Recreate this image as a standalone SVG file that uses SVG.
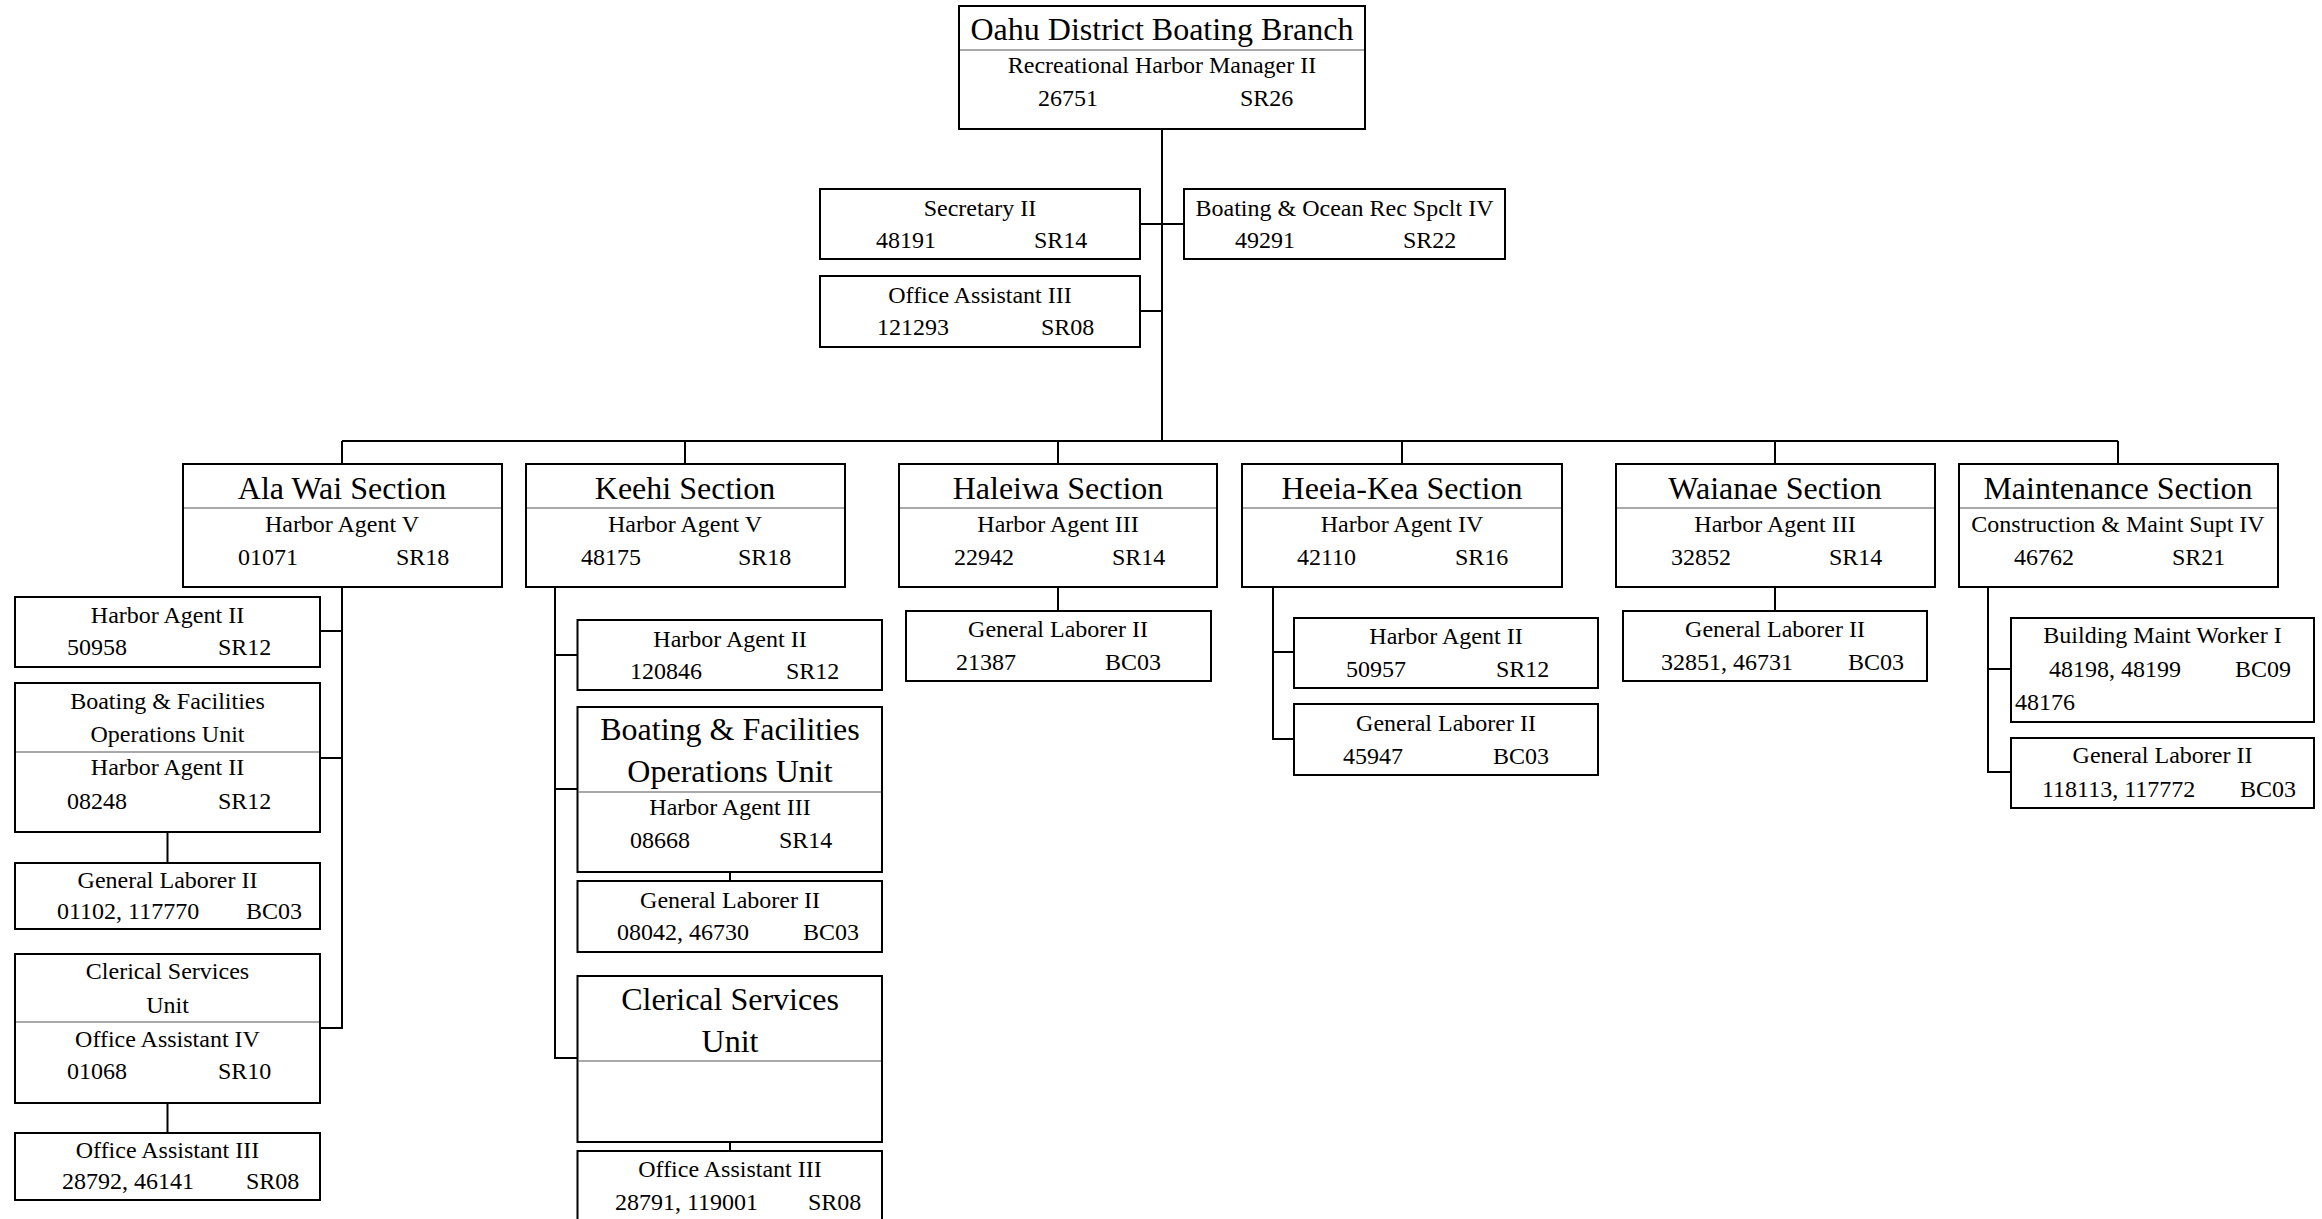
<svg xmlns="http://www.w3.org/2000/svg" width="2322" height="1219" viewBox="0 0 2322 1219">
<style>
.bg{fill:#fff}
.box{fill:#fff;stroke:#000;stroke-width:2}
.dv{stroke:#555;stroke-width:1.2;fill:none}
.ln{stroke:#000;stroke-width:2;fill:none}
text{font-family:"Liberation Serif","Times New Roman",serif;fill:#000}
.t32{font-size:32px;text-anchor:middle}
.t24{font-size:24px;text-anchor:middle}
.n{font-size:24px}
</style>
<rect class="bg" x="0" y="0" width="2322" height="1219"/>
<g id="connectors">
<path class="ln" d="M1162 129V441M1140 224H1184M1140 311H1162M342 441H2118M342 441V464M685 441V464M1058 441V464M1402 441V464M1775 441V464M2118 441V464"/>
<path class="ln" d="M342 587V1028H320M320 631H342M320 758H342M167.5 832V863M167.5 1103V1133"/>
<path class="ln" d="M555 587V1058H577.5M555 655H577.5M555 789H577.5M730 872V881M730 1142V1151"/>
<path class="ln" d="M1058 587V611M1273 587V739H1294M1273 652H1294M1775 587V611M1988 587V772H2011M1988 669H2011"/>
</g>
<g id="oahu-branch">
<rect class="box" x="959" y="6" width="406" height="123"/>
<line class="dv" x1="960" y1="50" x2="1364" y2="50"/>
<text class="t32" x="1162" y="40">Oahu District Boating Branch</text>
<text class="t24" x="1162" y="73">Recreational Harbor Manager II</text>
<text class="n" x="1038" y="106">26751</text><text class="n" x="1240" y="106">SR26</text>
</g>
<g id="secretary">
<rect class="box" x="820" y="189" width="320" height="70"/>
<text class="t24" x="980" y="216">Secretary II</text>
<text class="n" x="876" y="248">48191</text><text class="n" x="1034" y="248">SR14</text>
</g>
<g id="boating-ocean">
<rect class="box" x="1184" y="189" width="321" height="70"/>
<text class="t24" x="1344.5" y="216">Boating &amp; Ocean Rec Spclt IV</text>
<text class="n" x="1235" y="248">49291</text><text class="n" x="1403" y="248">SR22</text>
</g>
<g id="office-asst-top">
<rect class="box" x="820" y="276" width="320" height="71"/>
<text class="t24" x="980" y="303">Office Assistant III</text>
<text class="n" x="877" y="335">121293</text><text class="n" x="1041" y="335">SR08</text>
</g>
<g id="ala-wai">
<rect class="box" x="183" y="464" width="319" height="123"/>
<line class="dv" x1="184" y1="508" x2="501" y2="508"/>
<text class="t32" x="342" y="499">Ala Wai Section</text>
<text class="t24" x="342" y="532">Harbor Agent V</text>
<text class="n" x="238" y="565">01071</text><text class="n" x="396" y="565">SR18</text>
</g>
<g id="keehi">
<rect class="box" x="526" y="464" width="319" height="123"/>
<line class="dv" x1="527" y1="508" x2="844" y2="508"/>
<text class="t32" x="685" y="499">Keehi Section</text>
<text class="t24" x="685" y="532">Harbor Agent V</text>
<text class="n" x="581" y="565">48175</text><text class="n" x="738" y="565">SR18</text>
</g>
<g id="haleiwa">
<rect class="box" x="899" y="464" width="318" height="123"/>
<line class="dv" x1="900" y1="508" x2="1216" y2="508"/>
<text class="t32" x="1058" y="499">Haleiwa Section</text>
<text class="t24" x="1058" y="532">Harbor Agent III</text>
<text class="n" x="954" y="565">22942</text><text class="n" x="1112" y="565">SR14</text>
</g>
<g id="heeia-kea">
<rect class="box" x="1242" y="464" width="320" height="123"/>
<line class="dv" x1="1243" y1="508" x2="1561" y2="508"/>
<text class="t32" x="1402" y="499">Heeia-Kea Section</text>
<text class="t24" x="1402" y="532">Harbor Agent IV</text>
<text class="n" x="1297" y="565">42110</text><text class="n" x="1455" y="565">SR16</text>
</g>
<g id="waianae">
<rect class="box" x="1616" y="464" width="319" height="123"/>
<line class="dv" x1="1617" y1="508" x2="1934" y2="508"/>
<text class="t32" x="1775" y="499">Waianae Section</text>
<text class="t24" x="1775" y="532">Harbor Agent III</text>
<text class="n" x="1671" y="565">32852</text><text class="n" x="1829" y="565">SR14</text>
</g>
<g id="maintenance">
<rect class="box" x="1959" y="464" width="319" height="123"/>
<line class="dv" x1="1960" y1="508" x2="2277" y2="508"/>
<text class="t32" x="2118" y="499">Maintenance Section</text>
<text class="t24" x="2118" y="532">Construction &amp; Maint Supt IV</text>
<text class="n" x="2014" y="565">46762</text><text class="n" x="2172" y="565">SR21</text>
</g>
<g id="aw-harbor-agent-ii">
<rect class="box" x="15" y="597" width="305" height="70"/>
<text class="t24" x="167.5" y="623">Harbor Agent II</text>
<text class="n" x="67" y="655">50958</text><text class="n" x="218" y="655">SR12</text>
</g>
<g id="aw-boating-facilities">
<rect class="box" x="15" y="683" width="305" height="149"/>
<line class="dv" x1="16" y1="752" x2="319" y2="752"/>
<text class="t24" x="167.5" y="709">Boating &amp; Facilities</text>
<text class="t24" x="167.5" y="742">Operations Unit</text>
<text class="t24" x="167.5" y="775">Harbor Agent II</text>
<text class="n" x="67" y="809">08248</text><text class="n" x="218" y="809">SR12</text>
</g>
<g id="aw-general-laborer">
<rect class="box" x="15" y="863" width="305" height="66"/>
<text class="t24" x="167.5" y="888">General Laborer II</text>
<text class="n" x="57" y="919">01102, 117770</text><text class="n" x="246" y="919">BC03</text>
</g>
<g id="aw-clerical">
<rect class="box" x="15" y="954" width="305" height="149"/>
<line class="dv" x1="16" y1="1022" x2="319" y2="1022"/>
<text class="t24" x="167.5" y="979">Clerical Services</text>
<text class="t24" x="167.5" y="1013">Unit</text>
<text class="t24" x="167.5" y="1047">Office Assistant IV</text>
<text class="n" x="67" y="1079">01068</text><text class="n" x="218" y="1079">SR10</text>
</g>
<g id="aw-office-asst">
<rect class="box" x="15" y="1133" width="305" height="67"/>
<text class="t24" x="167.5" y="1158">Office Assistant III</text>
<text class="n" x="62" y="1189">28792, 46141</text><text class="n" x="246" y="1189">SR08</text>
</g>
<g id="k-harbor-agent-ii">
<rect class="box" x="577.5" y="620" width="304.5" height="70"/>
<text class="t24" x="730" y="647">Harbor Agent II</text>
<text class="n" x="630" y="679">120846</text><text class="n" x="786" y="679">SR12</text>
</g>
<g id="k-boating-facilities">
<rect class="box" x="577.5" y="707" width="304.5" height="165"/>
<line class="dv" x1="578.5" y1="792" x2="881" y2="792"/>
<text class="t32" x="730" y="740">Boating &amp; Facilities</text>
<text class="t32" x="730" y="782">Operations Unit</text>
<text class="t24" x="730" y="815">Harbor Agent III</text>
<text class="n" x="630" y="848">08668</text><text class="n" x="779" y="848">SR14</text>
</g>
<g id="k-general-laborer">
<rect class="box" x="577.5" y="881" width="304.5" height="71"/>
<text class="t24" x="730" y="908">General Laborer II</text>
<text class="n" x="617" y="940">08042, 46730</text><text class="n" x="803" y="940">BC03</text>
</g>
<g id="k-clerical">
<rect class="box" x="577.5" y="976" width="304.5" height="166"/>
<line class="dv" x1="578.5" y1="1061" x2="881" y2="1061"/>
<text class="t32" x="730" y="1010">Clerical Services</text>
<text class="t32" x="730" y="1052">Unit</text>
</g>
<g id="k-office-asst">
<rect class="box" x="577.5" y="1151" width="304.5" height="71"/>
<text class="t24" x="730" y="1177">Office Assistant III</text>
<text class="n" x="615" y="1210">28791, 119001</text><text class="n" x="808" y="1210">SR08</text>
</g>
<g id="h-general-laborer">
<rect class="box" x="906" y="611" width="305" height="70"/>
<text class="t24" x="1058" y="637">General Laborer II</text>
<text class="n" x="956" y="670">21387</text><text class="n" x="1105" y="670">BC03</text>
</g>
<g id="hk-harbor-agent-ii">
<rect class="box" x="1294" y="618" width="304" height="70"/>
<text class="t24" x="1446" y="644">Harbor Agent II</text>
<text class="n" x="1346" y="677">50957</text><text class="n" x="1496" y="677">SR12</text>
</g>
<g id="hk-general-laborer">
<rect class="box" x="1294" y="704" width="304" height="71"/>
<text class="t24" x="1446" y="731">General Laborer II</text>
<text class="n" x="1343" y="764">45947</text><text class="n" x="1493" y="764">BC03</text>
</g>
<g id="w-general-laborer">
<rect class="box" x="1623" y="611" width="304" height="70"/>
<text class="t24" x="1775" y="637">General Laborer II</text>
<text class="n" x="1661" y="670">32851, 46731</text><text class="n" x="1848" y="670">BC03</text>
</g>
<g id="m-building-maint">
<rect class="box" x="2011" y="618" width="303" height="104"/>
<text class="t24" x="2162.5" y="643">Building Maint Worker I</text>
<text class="n" x="2049" y="677">48198, 48199</text><text class="n" x="2235" y="677">BC09</text>
<text class="n" x="2015" y="710">48176</text>
</g>
<g id="m-general-laborer">
<rect class="box" x="2011" y="738" width="303" height="70"/>
<text class="t24" x="2162.5" y="763">General Laborer II</text>
<text class="n" x="2042" y="797">118113, 117772</text><text class="n" x="2240" y="797">BC03</text>
</g>
</svg>
